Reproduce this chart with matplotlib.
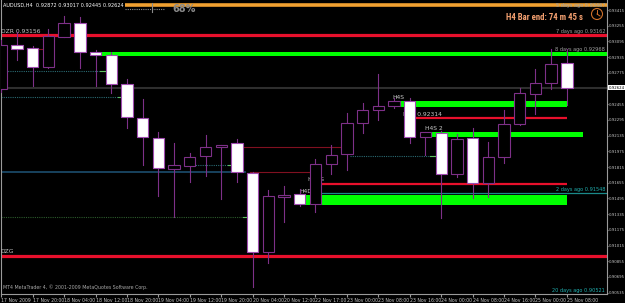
import matplotlib
matplotlib.use('Agg')
import matplotlib.pyplot as plt
from matplotlib import font_manager
from matplotlib.patches import Rectangle, Ellipse
from matplotlib.lines import Line2D
import matplotlib.transforms as mtrans

# ---------------- data ----------------
bar_labels = ["17 Nov 2009", "17 Nov 20:00", "18 Nov 04:00", "18 Nov 12:00", "18 Nov 20:00",
              "19 Nov 04:00", "19 Nov 12:00", "19 Nov 20:00", "20 Nov 04:00", "20 Nov 12:00",
              "22 Nov 17:00", "23 Nov 00:00", "23 Nov 08:00", "23 Nov 16:00", "24 Nov 00:00",
              "24 Nov 08:00", "24 Nov 16:00", "25 Nov 00:00", "25 Nov 08:00"]
opens = [0.92610, 0.93058, 0.93028, 0.92834, 0.93140, 0.93283, 0.92987, 0.92957, 0.92661, 0.92315,
         0.92111, 0.91795, 0.91825, 0.91927, 0.92019, 0.92060, 0.91754, 0.90949, 0.91510, 0.91540,
         0.91438, 0.91846, 0.91948, 0.92264, 0.92396, 0.92437, 0.92488, 0.92121, 0.92162, 0.91744,
         0.92111, 0.91652, 0.91917, 0.92253, 0.92559, 0.92671, 0.92872]
highs = [0.93109, 0.93191, 0.93048, 0.93221, 0.93354, 0.93344, 0.93007, 0.92987, 0.92712, 0.92508,
         0.92172, 0.92060, 0.91958, 0.92141, 0.92039, 0.92101, 0.91764, 0.91581, 0.91622, 0.91591,
         0.91897, 0.92039, 0.92366, 0.92467, 0.92763, 0.92518, 0.92518, 0.92172, 0.92182, 0.92152,
         0.92213, 0.92070, 0.92396, 0.92620, 0.92814, 0.93018, 0.93017]
lows = [0.92580, 0.92906, 0.92641, 0.92824, 0.93140, 0.92824, 0.92641, 0.92569, 0.92213, 0.91836,
        0.91520, 0.91306, 0.91662, 0.91724, 0.91489, 0.91662, 0.90592, 0.90837, 0.91255, 0.91418,
        0.91357, 0.91744, 0.91785, 0.92162, 0.92294, 0.92416, 0.92060, 0.91938, 0.91296, 0.91713,
        0.91499, 0.91510, 0.91856, 0.92243, 0.92355, 0.92610, 0.92445]
closes = [0.93058, 0.93018, 0.92834, 0.93150, 0.93283, 0.92987, 0.92957, 0.92661, 0.92325, 0.92121,
          0.91805, 0.91836, 0.91917, 0.92019, 0.92039, 0.91764, 0.90949, 0.91520, 0.91530, 0.91438,
          0.91846, 0.91938, 0.92264, 0.92396, 0.92437, 0.92488, 0.92121, 0.92172, 0.91744, 0.92101,
          0.91652, 0.91917, 0.92253, 0.92569, 0.92671, 0.92865, 0.92624]
price_ticks = [0.93415, 0.93255, 0.93095, 0.92935, 0.92775, 0.92455, 0.92295, 0.92135, 0.91975,
               0.91815, 0.91655, 0.91495, 0.91335, 0.91175, 0.91015, 0.90855, 0.90695, 0.90535]
current_price = 0.92624
title_text = "AUDUSD,H4  0.92872 0.93017 0.92445 0.92624"

# zones: (start bar, end bar or None=right edge, low, high)
green_zones = [(6.4, None, 0.92946, 0.92987),
               (25.3, 36.0, 0.92427, 0.92488),
               (27.4, 37.0, 0.92121, 0.92172),
               (19.4, 36.0, 0.91428, 0.91530)]
red_levels = [(None, None, 0.93156), (None, None, 0.90908)]
red_short = [(26.4, 36.0, 0.92314), (20.4, 36.0, 0.91642)]
dark_red = [(15.0, 22.0, 0.92019), (15.8, 20.0, 0.91764), (2.0, 3.0, 0.93018)]
teal_dotted = [(None, 6.9, 0.92794), (None, 8.0, 0.92529), (12.1, 15.0, 0.91836), (22.2, 27.9, 0.91927)]
green_dotted = [(None, 16.0, 0.91306)]
blue_level = [(None, 15.5, 0.91764)]
teal_level = [(20.0, None, 0.91548)]
orange_level = 0.93466
right_notes = [("5 days ago 0.93467", 0.93440, '#8f9fb0'),
               ("7 days ago 0.93162", 0.93175, '#a0a0a0'),
               ("8 days ago 0.92968", 0.92992, '#a0a0a0'),
               ("2 days ago 0.91548", 0.91560, '#20b0b0'),
               ("20 days ago 0.90521", 0.90530, '#20b0b0')]
zone_notes = [("DZR 0.93156", -0.05, 0.93172),
              ("DZG", -0.05, 0.90925),
              ("H4S", 24.9, 0.92500),
              ("H4Z 0.92314", 25.6, 0.92325),
              ("H4S 2", 27.0, 0.92185),
              ("H4D", 19.0, 0.91545),
              ("H4ZG", 19.5, 0.91660)]

# ---------------- figure ----------------
W, H = 625, 303
fig = plt.figure(figsize=(W / 100, H / 100), dpi=100)
fig.patch.set_facecolor('black')
ax = fig.add_axes([1 / W, 9 / H, 606 / W, 294 / H])
ax.set_facecolor('black')
XMIN, XMAX = -0.02, 38.556
ax.set_xlim(XMIN, XMAX)
ax.set_ylim(0.90521, 0.93517)

def span(a, b):
    return (XMIN if a is None else a), (XMAX if b is None else b)

for a, b, lo, hi in green_zones:
    x0, x1 = span(a, b)
    ax.add_patch(Rectangle((x0, lo), x1 - x0, hi - lo, facecolor='#00ff00', edgecolor='none', zorder=2))
for a, b, p in red_levels:
    x0, x1 = span(a, b)
    ax.plot([x0, x1], [p, p], color='#e8102c', lw=2.3, zorder=2, solid_capstyle='butt')
for a, b, p in red_short:
    x0, x1 = span(a, b)
    ax.plot([x0, x1], [p, p], color='#e8102c', lw=1.6, zorder=2, solid_capstyle='butt')
for a, b, p in dark_red:
    x0, x1 = span(a, b)
    ax.plot([x0, x1], [p, p], color='#801020', lw=0.8, zorder=2)
for a, b, p in teal_dotted:
    x0, x1 = span(a, b)
    ax.plot([x0, x1], [p, p], color='#2a6a72', lw=0.8, ls=(0, (1, 1)), zorder=2)
    ax.plot([x1 - 0.6, x1], [p, p], color='#60c060', lw=0.8, zorder=2)
for a, b, p in green_dotted:
    x0, x1 = span(a, b)
    ax.plot([x0, x1], [p, p], color='#2c5a2c', lw=0.8, ls=(0, (1, 1)), zorder=2)
    ax.plot([x1 - 0.6, x1], [p, p], color='#60c060', lw=0.8, zorder=2)
for a, b, p in blue_level:
    x0, x1 = span(a, b)
    ax.plot([x0, x1], [p, p], color='#1c4e6e', lw=1.2, zorder=2)
for a, b, p in teal_level:
    x0, x1 = span(a, b)
    ax.plot([x0, x1], [p, p], color='#1a8a8a', lw=0.9, zorder=2)
ax.plot([XMIN, XMAX], [current_price, current_price], color='#2e2e2e', lw=1.5, zorder=1)
ax.plot([XMIN, XMAX], [orange_level, orange_level], color='#f0a030', lw=2.6, zorder=2,
        solid_capstyle='butt')

# zone texts (drawn under candles)
for txt, x, p in zone_notes:
    ax.text(x, p, txt, color='#c8c8c8', fontsize=4.3, ha='left', va='bottom', zorder=3)

blend = mtrans.blended_transform_factory(ax.transAxes, ax.transData)
for txt, p, c in right_notes:
    ax.text(0.997, p, txt, color=c, fontsize=3.6, ha='right', va='bottom', transform=blend, zorder=3)

# candles
bw = 0.72
for i, (o, h, l, c) in enumerate(zip(opens, highs, lows, closes)):
    bull = c >= o
    ax.plot([i, i], [l, h], color='#7e3088', lw=0.8, zorder=4)
    lo, hi = min(o, c), max(o, c)
    hgt = max(hi - lo, 0.00003)
    if bull:
        ax.add_patch(Rectangle((i - bw / 2, lo), bw, hgt, facecolor='black', edgecolor='#7e3088',
                               lw=0.8, zorder=5))
    else:
        ax.add_patch(Rectangle((i - bw / 2, lo), bw, hgt, facecolor='white', edgecolor='#a04cb0',
                               lw=0.8, zorder=5))

# axes styling
ax.spines['top'].set_visible(False)
for s in ['left', 'right', 'bottom']:
    ax.spines[s].set_color('#9a9a9a')
    ax.spines[s].set_linewidth(0.8)
ax.yaxis.tick_right()
ax.set_yticks(price_ticks)
ax.set_yticklabels([f"{v:.5f}" for v in price_ticks])
ax.tick_params(axis='y', colors='#9a9a9a', labelcolor='#c8c8c8', labelsize=2.75, length=1, pad=0.4)
ax.set_xticks(range(0, 2 * len(bar_labels), 2))
ax.set_xticklabels(bar_labels)
ax.tick_params(axis='x', colors='#9a9a9a', labelcolor='#c8c8c8', labelsize=3.3, length=2, pad=1)
for lbl in ax.get_xticklabels():
    lbl.set_ha('left')

ax.text(1.003, current_price, f"{current_price:.5f}", transform=blend, fontsize=2.75, color='black',
        ha='left', va='center', clip_on=False,
        bbox=dict(boxstyle='square,pad=0.15', facecolor='white', edgecolor='none'), zorder=6)

# header
fig.text(3 / W, 1 - 5 / H, title_text, color='white', fontsize=3.6, ha='left', va='center',
         bbox=dict(boxstyle='square,pad=0.2', facecolor='black', edgecolor='none'), zorder=10)
fig.text(172 / W, 1 - 9 / H, "68%", color='#8a8a8a', fontsize=7.0, fontweight='bold', ha='left',
         va='center', zorder=10)
fig.add_artist(Line2D([125 / W, 165 / W], [1 - 9 / H, 1 - 9 / H], color='#8a8a8a', lw=0.8,
                      ls=(0, (1, 1))))
fig.add_artist(Line2D([152 / W, 152 / W], [1 - 3 / H, 1 - 12 / H], color='#8a8a8a', lw=0.8))

avail = {f.name for f in font_manager.fontManager.ttflist}
narrow = next((f for f in ['Liberation Sans Narrow', 'DejaVu Sans Condensed', 'Roboto Condensed']
               if f in avail), 'DejaVu Sans')
fig.text(583 / W, 1 - 17 / H, "H4 Bar end: 74 m 45 s", color='#f4a070', fontsize=6.3,
         fontweight='bold', family=narrow, ha='right', va='center')
fig.add_artist(Ellipse((597 / W, 1 - 14 / H), 11 / W, 11 / H, facecolor='none', edgecolor='#d0702a',
                       lw=0.8))
fig.add_artist(Line2D([597 / W, 597 / W], [1 - 14 / H, 1 - 10 / H], color='#d0702a', lw=0.7))
fig.add_artist(Line2D([597 / W, 600 / W], [1 - 14 / H, 1 - 16 / H], color='#d0702a', lw=0.7))

fig.text(3 / W, 1 - 287 / H, "MT4 MetaTrader 4, \u00a9 2001-2009 MetaQuotes Software Corp.",
         color='#a8a8a8', fontsize=3.4, ha='left', va='center')

fig.savefig('out.png', dpi=100, facecolor='black')
